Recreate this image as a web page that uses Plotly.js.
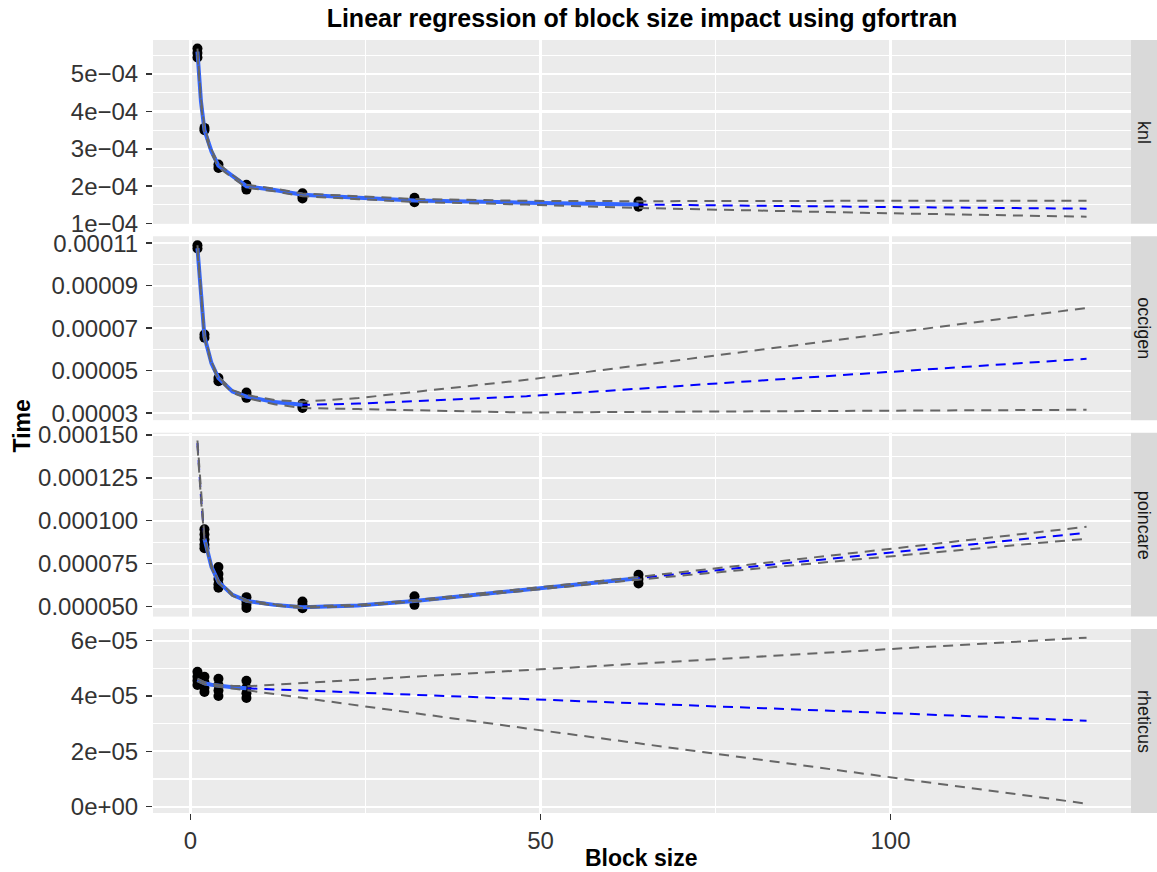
<!DOCTYPE html>
<html><head><meta charset="utf-8">
<script src="https://cdn.plot.ly/plotly-3.0.1.min.js"></script>
<style>html,body{margin:0;padding:0;background:#fff}</style>
</head><body><div id="chart" style="width:1157px;height:872px"></div>
<script>
// ---------- data ----------
const machines = ['knl', 'occigen', 'poincare', 'rheticus'];

// measured points
const knlBlock = [1,1,1,2,2,4,4,8,8,8,16,16,16,32,32,32,64,64,64];
const knlTime  = [5.68e-4,5.56e-4,5.44e-4,3.56e-4,3.50e-4,2.58e-4,2.49e-4,2.04e-4,1.97e-4,1.91e-4,1.81e-4,1.74e-4,1.67e-4,1.69e-4,1.62e-4,1.57e-4,1.59e-4,1.52e-4,1.45e-4];

const occigenBlock = [1,1,2,2,4,4,8,8,8,16,16,16];
const occigenTime  = [10.9e-5,10.75e-5,6.70e-5,6.55e-5,4.65e-5,4.50e-5,3.97e-5,3.85e-5,3.72e-5,3.44e-5,3.34e-5,3.24e-5];

const poincareBlock = [2,2,2,2,2,4,4,4,4,4,8,8,8,8,16,16,16,32,32,32,64,64,64];
const poincareTime  = [9.5e-5,9.2e-5,8.9e-5,8.6e-5,8.4e-5,7.3e-5,6.9e-5,6.6e-5,6.3e-5,6.1e-5,5.55e-5,5.3e-5,5.1e-5,4.92e-5,5.3e-5,5.1e-5,4.9e-5,5.6e-5,5.35e-5,5.1e-5,6.85e-5,6.6e-5,6.35e-5];

const rheticusBlock = [1,1,1,1,2,2,2,2,4,4,4,4,8,8,8,8];
const rheticusTime  = [4.88e-5,4.70e-5,4.55e-5,4.40e-5,4.70e-5,4.50e-5,4.30e-5,4.15e-5,4.62e-5,4.40e-5,4.20e-5,4.00e-5,4.55e-5,4.30e-5,4.10e-5,3.93e-5];

// regression prediction (fit and confidence bounds) at these block sizes
const predBlock = [1,1.5,2,3,4,6,8,12,16,24,32,48,64,96,128];

const knlFit = [5.60e-4,4.27e-4,3.50e-4,2.93e-4,2.55e-4,2.26e-4,2.00e-4,1.90e-4,1.77e-4,1.69e-4,1.62e-4,1.56e-4,1.51e-4,1.45e-4,1.40e-4];
const knlUpr = [5.68e-4,4.34e-4,3.56e-4,2.98e-4,2.60e-4,2.30e-4,2.04e-4,1.935e-4,1.805e-4,1.725e-4,1.66e-4,1.61e-4,1.60e-4,1.61e-4,1.615e-4];
const knlLwr = [5.52e-4,4.20e-4,3.44e-4,2.88e-4,2.50e-4,2.22e-4,1.96e-4,1.865e-4,1.735e-4,1.655e-4,1.58e-4,1.51e-4,1.42e-4,1.29e-4,1.185e-4];

const occigenFit = [10.76e-5,8.57e-5,6.60e-5,5.35e-5,4.65e-5,4.02e-5,3.78e-5,3.52e-5,3.39e-5,3.45e-5,3.56e-5,3.80e-5,4.15e-5,4.86e-5,5.56e-5];
const occigenUpr = [10.90e-5,8.68e-5,6.68e-5,5.41e-5,4.71e-5,4.08e-5,3.85e-5,3.62e-5,3.54e-5,3.71e-5,3.99e-5,4.57e-5,5.25e-5,6.60e-5,7.95e-5];
const occigenLwr = [10.62e-5,8.46e-5,6.52e-5,5.29e-5,4.59e-5,3.96e-5,3.71e-5,3.42e-5,3.24e-5,3.19e-5,3.13e-5,3.03e-5,3.06e-5,3.11e-5,3.16e-5];

const poincareFit = [14.52e-5,11.4e-5,8.95e-5,7.31e-5,6.44e-5,5.68e-5,5.33e-5,5.10e-5,4.96e-5,5.07e-5,5.33e-5,6.00e-5,6.65e-5,7.98e-5,9.30e-5];
const poincareUpr = [14.67e-5,11.52e-5,9.03e-5,7.37e-5,6.49e-5,5.73e-5,5.37e-5,5.14e-5,5.00e-5,5.11e-5,5.37e-5,6.05e-5,6.73e-5,8.18e-5,9.65e-5];
const poincareLwr = [14.37e-5,11.28e-5,8.87e-5,7.25e-5,6.39e-5,5.63e-5,5.29e-5,5.06e-5,4.92e-5,5.03e-5,5.29e-5,5.95e-5,6.57e-5,7.78e-5,8.95e-5];

const rheticusFit = [4.58e-5,4.51e-5,4.46e-5,4.41e-5,4.37e-5,4.32e-5,4.28e-5,4.24e-5,4.20e-5,4.12e-5,4.04e-5,3.88e-5,3.73e-5,3.42e-5,3.11e-5];
const rheticusUpr = [4.63e-5,4.56e-5,4.50e-5,4.45e-5,4.41e-5,4.37e-5,4.35e-5,4.41e-5,4.47e-5,4.58e-5,4.70e-5,4.93e-5,5.17e-5,5.64e-5,6.11e-5];
const rheticusLwr = [4.53e-5,4.46e-5,4.42e-5,4.37e-5,4.33e-5,4.27e-5,4.21e-5,4.07e-5,3.93e-5,3.66e-5,3.38e-5,2.83e-5,2.29e-5,1.20e-5,0.11e-5];

// ticks
const xTickVals = [0, 50, 100];
const xTickText = ['0', '50', '100'];
const knlTickVals = [1e-4,2e-4,3e-4,4e-4,5e-4];
const knlTickText = ['1e\u221204','2e\u221204','3e\u221204','4e\u221204','5e\u221204'];
const occigenTickVals = [3e-5,5e-5,7e-5,9e-5,11e-5];
const occigenTickText = ['0.00003','0.00005','0.00007','0.00009','0.00011'];
const poincareTickVals = [5e-5,7.5e-5,10e-5,12.5e-5,15e-5];
const poincareTickText = ['0.000050','0.000075','0.000100','0.000125','0.000150'];
const rheticusTickVals = [0,2e-5,4e-5,6e-5];
const rheticusTickText = ['0e+00','2e\u221205','4e\u221205','6e\u221205'];

// ---------- chart ----------
const FONT = 'Liberation Sans, Arial, sans-serif';
const panels = [
  {name:'knl', bx:knlBlock, t:knlTime, fit:knlFit, upr:knlUpr, lwr:knlLwr, tv:knlTickVals, tt:knlTickText, minor:[1.5e-4,2.5e-4,3.5e-4,4.5e-4,5.5e-4], range:[0.995e-4,5.91e-4], dom:[0.7622,1]},
  {name:'occigen', bx:occigenBlock, t:occigenTime, fit:occigenFit, upr:occigenUpr, lwr:occigenLwr, tv:occigenTickVals, tt:occigenTickText, minor:[4e-5,6e-5,8e-5,10e-5], range:[2.67e-5,11.325e-5], dom:[0.5082,0.7461]},
  {name:'poincare', bx:poincareBlock, t:poincareTime, fit:poincareFit, upr:poincareUpr, lwr:poincareLwr, tv:poincareTickVals, tt:poincareTickText, minor:[6.25e-5,8.75e-5,11.25e-5,13.75e-5], range:[4.418e-5,15.128e-5], dom:[0.2541,0.4920]},
  {name:'rheticus', bx:rheticusBlock, t:rheticusTime, fit:rheticusFit, upr:rheticusUpr, lwr:rheticusLwr, tv:rheticusTickVals, tt:rheticusTickText, minor:[1e-5,3e-5,5e-5], range:[-0.2277e-5,6.419e-5], dom:[0,0.2379]}
];

const DASH = '10px,7px';
const traces = [];
const layout = {
  width:1157, height:872,
  paper_bgcolor:'white', plot_bgcolor:'#EBEBEB',
  margin:{l:153, r:26, t:40, b:59},
  showlegend:false, hovermode:false,
  font:{family:FONT},
  title:{text:'<b>Linear regression of block size impact using gfortran</b>',
         font:{family:FONT, size:25, color:'black'},
         x:0.5, xref:'paper', xanchor:'center', y:1-18/872, yref:'container', yanchor:'middle'},
  shapes:[], annotations:[]
};

panels.forEach((p, i) => {
  const s = i === 0 ? '' : String(i + 1);
  const xa = 'x' + s, ya = 'y' + s;
  const minX = Math.min(...p.bx), maxX = Math.max(...p.bx);
  const inX = [], inY = [];
  predBlock.forEach((b, k) => { if (b >= minX && b <= maxX) { inX.push(b); inY.push(p.fit[k]); } });

  traces.push({type:'scatter', mode:'markers', x:p.bx, y:p.t, xaxis:xa, yaxis:ya,
               marker:{color:'black', size:10}});
  traces.push({type:'scatter', mode:'lines', x:predBlock, y:p.fit, xaxis:xa, yaxis:ya,
               line:{color:'#0000FF', width:2, dash:DASH}});
  traces.push({type:'scatter', mode:'lines', x:inX, y:inY, xaxis:xa, yaxis:ya,
               line:{color:'#3366FF', width:4}});
  traces.push({type:'scatter', mode:'lines', x:predBlock, y:p.upr, xaxis:xa, yaxis:ya,
               line:{color:'#666666', width:2, dash:DASH}});
  traces.push({type:'scatter', mode:'lines', x:predBlock, y:p.lwr, xaxis:xa, yaxis:ya,
               line:{color:'#666666', width:2, dash:DASH}});

  const bottom = i === panels.length - 1;
  layout['xaxis' + s] = {
    domain:[0,1], range:[-5.35,134.35], anchor:ya,
    tickmode:'array', tickvals:xTickVals, ticktext:xTickText,
    showticklabels:bottom, ticks:bottom ? 'outside' : '', ticklen:6, tickwidth:1.5, tickcolor:'#333333',
    tickfont:{family:FONT, size:24, color:'#333333'},
    showgrid:true, gridcolor:'white', gridwidth:2.2, zeroline:false, showline:false,
    minor:{tickmode:'array', tickvals:[25,75,125], showgrid:true, gridcolor:'white', gridwidth:1.1, ticks:''},
    fixedrange:true
  };
  layout['yaxis' + s] = {
    domain:p.dom, range:p.range, anchor:xa,
    tickmode:'array', tickvals:p.tv, ticktext:p.tt,
    ticks:'outside', ticklen:6, tickwidth:1.5, tickcolor:'#333333', ticklabelstandoff:3,
    tickfont:{family:FONT, size:24, color:'#333333'},
    showgrid:true, gridcolor:'white', gridwidth:2.2, zeroline:false, showline:false,
    minor:{tickmode:'array', tickvals:p.minor, showgrid:true, gridcolor:'white', gridwidth:1.1, ticks:''},
    fixedrange:true
  };

  layout.shapes.push({type:'rect', xref:'paper', yref:'paper', x0:1, x1:1 + 26/978,
                      y0:p.dom[0], y1:p.dom[1], fillcolor:'#D9D9D9', line:{width:0}, layer:'below'});
  layout.annotations.push({text:p.name, xref:'paper', yref:'paper', x:1 + 13/978,
                           y:(p.dom[0] + p.dom[1]) / 2, xanchor:'center', yanchor:'middle',
                           textangle:90, showarrow:false,
                           font:{family:FONT, size:18, color:'#1A1A1A'}});
});

layout.annotations.push({text:'<b>Time</b>', xref:'paper', yref:'paper', x:(21-153)/978, y:0.5,
  xanchor:'center', yanchor:'middle', textangle:-90, showarrow:false,
  font:{family:FONT, size:23, color:'black'}});
layout.annotations.push({text:'<b>Block size</b>', xref:'paper', yref:'paper', x:(641.5-153)/978, y:(813-858)/773,
  xanchor:'center', yanchor:'middle', showarrow:false,
  font:{family:FONT, size:23, color:'black'}});

Plotly.newPlot('chart', traces, layout, {displayModeBar:false, staticPlot:true});
</script></body></html>
